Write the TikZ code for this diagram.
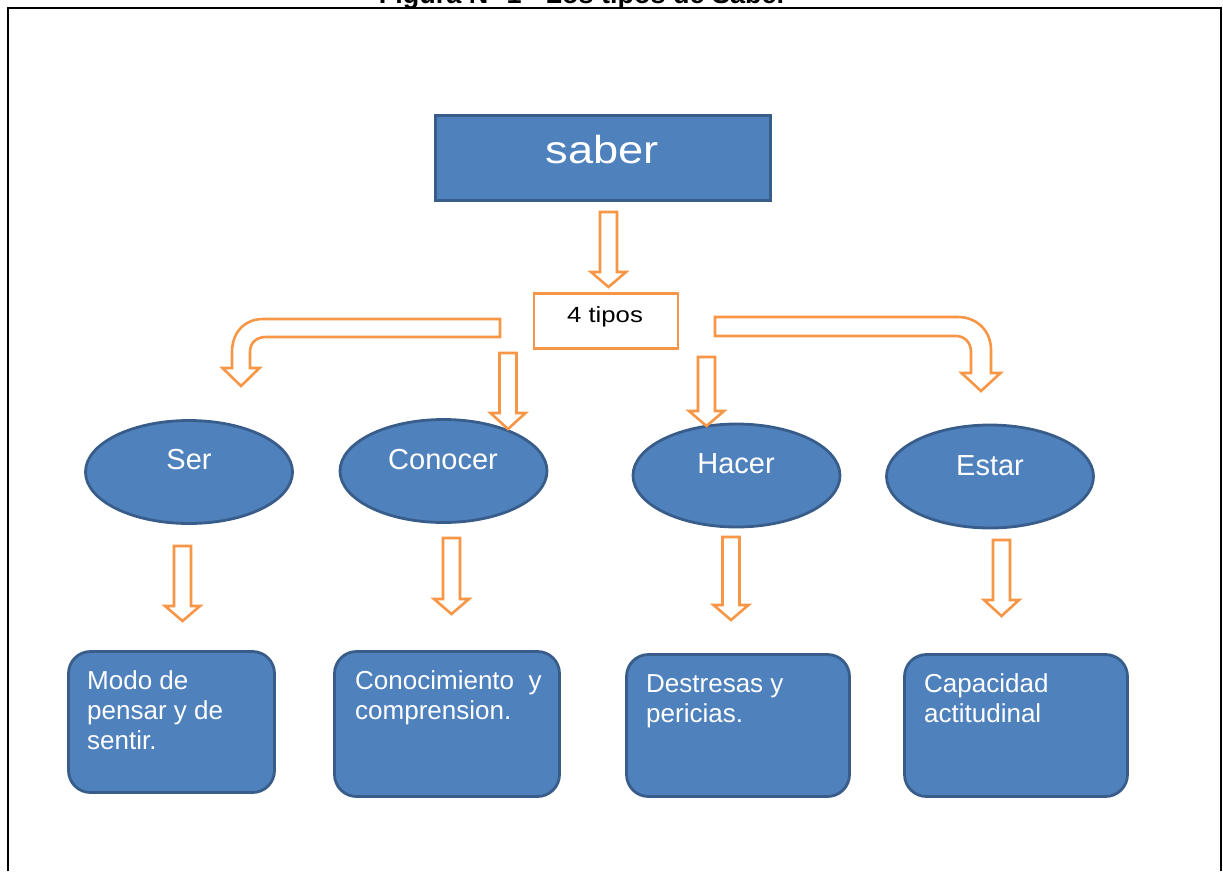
\documentclass[tikz,border=0pt]{standalone}
\usepackage{fontspec}
\setmainfont{Liberation Sans}
\usetikzlibrary{shapes.geometric}
\definecolor{fillblue}{HTML}{4F81BD}
\definecolor{edgeblue}{HTML}{385D8A}
\definecolor{orangeline}{HTML}{F79646}
\tikzset{
  oarrow/.style={draw=orangeline, line width=2.6pt, fill=white, line join=miter},
  bluebox/.style={draw=edgeblue, fill=fillblue, line width=2.8pt},
  headbox/.style={bluebox, rectangle, inner sep=0pt},
  ovalnode/.style={bluebox, ellipse, inner sep=0pt, minimum width=207pt, minimum height=103pt},
  leafbox/.style={bluebox, rectangle, rounded corners=22pt, inner sep=0pt},
  tiposbox/.style={draw=orangeline, fill=white, line width=2.6pt, rectangle, inner sep=0pt, minimum width=144pt, minimum height=55pt},
  ovaltext/.style={text=white, font=\fontsize{29}{34}\selectfont, anchor=base, inner sep=0pt},
  leaftext/.style={text=white, font=\fontsize{26}{30}\selectfont, anchor=north west, align=left, inner sep=0pt},
  frameline/.style={line width=2.5pt, black}
}
\newcommand\blockdown[4]{% x, top, tip, headlength
  \draw[oarrow] (#1-8.5,#2) -- (#1+8.5,#2) -- (#1+8.5,#3-#4) -- (#1+17.5,#3-#4) -- (#1,#3) -- (#1-17.5,#3-#4) -- (#1-8.5,#3-#4) -- cycle;}
\begin{document}
\begin{tikzpicture}[x=1pt,y=-1pt]
\useasboundingbox (0,0) rectangle (1223,871);
% title (cut off at top)
\node[font=\bfseries\fontsize{27}{30}\selectfont, anchor=base, inner sep=0pt] (title) at (583,3.5) {Figura N° 1 - Los tipos de Saber};
% frame
\draw[frameline] (8,871) -- (8,8) -- (1221,8) -- (1221,871);

% top box
\node[headbox, minimum width=335pt, minimum height=85pt] (saber) at (603,158) {};
\node[text=white, anchor=base, inner sep=0pt, font=\fontsize{39}{44}\selectfont] (sabert) at (602,163) {\scalebox{1.16}[1]{saber}};

% 4 tipos
\node[tiposbox] (tipos) at (606,321) {};
\node[anchor=base, inner sep=0pt, font=\fontsize{22}{26}\selectfont] (tipost) at (605,322) {\scalebox{1.17}[1]{4 tipos}};

% ellipses
\node[ovalnode] (ser) at (189,472) {};
\node[ovaltext] (sert) at (189,469) {Ser};
\node[ovalnode] (conocer) at (443.5,471) {};
\node[ovaltext] (conocert) at (443,469) {Conocer};
\node[ovalnode] (hacer) at (736.5,475.5) {};
\node[ovaltext] (hacert) at (736,473) {Hacer};
\node[ovalnode] (estar) at (990,476.5) {};
\node[ovaltext] (estart) at (990,475) {Estar};

% leaf boxes
\node[leafbox, minimum width=206pt, minimum height=141pt] (modo) at (171.5,722) {};
\node[leaftext] (modot) at (87,668) {\strut Modo de\\pensar y de\\sentir.};
\node[leafbox, minimum width=225pt, minimum height=145pt] (conoc) at (447,724) {};
\node[leaftext] (conoct) at (355,668) {\strut Conocimiento\ \ y\\comprension.};
\node[leafbox, minimum width=223pt, minimum height=142pt] (destr) at (738,725.5) {};
\node[leaftext] (destrt) at (646,671) {\strut Destresas y\\pericias.};
\node[leafbox, minimum width=223pt, minimum height=142pt] (capac) at (1016,725.5) {};
\node[leaftext] (capact) at (924,671) {\strut Capacidad\\actitudinal};

% straight block arrows
\blockdown{608.5}{212}{287}{15}
\blockdown{508}{353}{429}{16}
\blockdown{706.5}{357}{426}{15}
\blockdown{182.5}{546}{621}{15}
\blockdown{451.5}{538}{614}{15}
\blockdown{731}{537}{620}{15}
\blockdown{1001.5}{540}{616}{16}

% bent block arrow left
\draw[oarrow] (500,319) -- (263,319) .. controls (245,319) and (232,332) .. (232,352)
  -- (232,368) -- (222.5,368) -- (241,386) -- (259.5,368) -- (250,368) -- (250,352)
  .. controls (250,343) and (256,337) .. (266,337) -- (500,337) -- cycle;
% bent block arrow right
\draw[oarrow] (715,317) -- (958,317) .. controls (976,317) and (991,330) .. (991,350)
  -- (991,373) -- (1000.5,373) -- (981,391) -- (961.5,373) -- (971,373) -- (971,352)
  .. controls (971,343) and (965,336) .. (956,336) -- (715,336) -- cycle;
\end{tikzpicture}
\end{document}
